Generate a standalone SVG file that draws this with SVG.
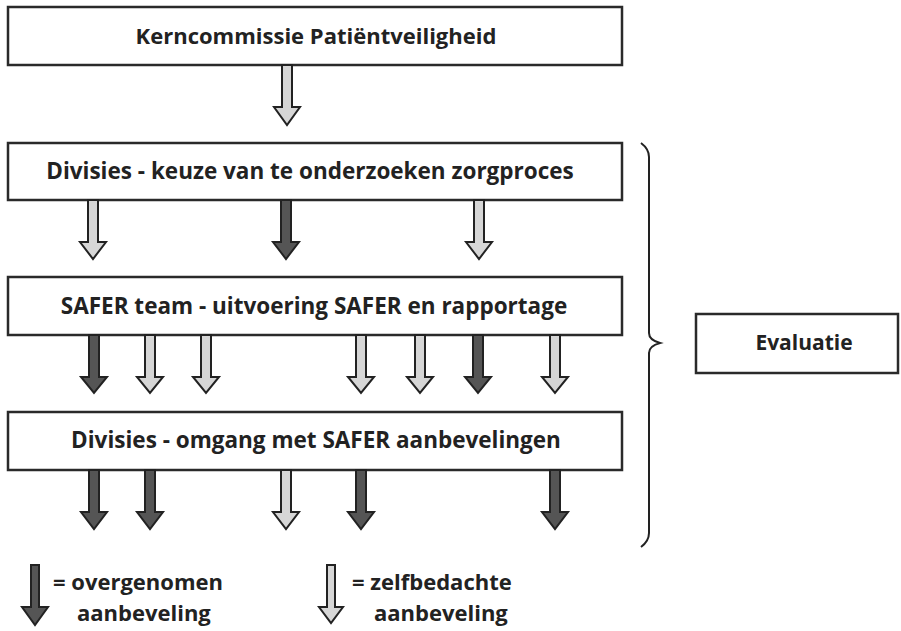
<svg xmlns="http://www.w3.org/2000/svg" width="901" height="631" viewBox="0 0 901 631">
<style>
.box{fill:#fff;stroke:#2a2a2a;stroke-width:2.5}
.t{font-family:"Open Sans","Noto Sans",sans-serif;font-weight:700;font-size:22.5px;fill:#222}
.lg{font-size:22px}
.lt{fill:#d6d6d6;stroke:#222;stroke-width:2;stroke-linejoin:miter}
.dk{fill:#555;stroke:#222;stroke-width:2;stroke-linejoin:miter}
.br{fill:none;stroke:#222;stroke-width:2}
</style>
<rect width="901" height="631" fill="#fff"/>
<g id="kern"><rect class="box" x="8" y="7" width="614" height="58"/><text class="t" x="316" y="44" text-anchor="middle" style="font-size:22px">Kerncommissie Patiëntveiligheid</text></g>
<g id="divisies1"><rect class="box" x="8" y="143" width="614" height="57"/><text class="t" x="310" y="179" text-anchor="middle">Divisies - keuze van te onderzoeken zorgproces</text></g>
<g id="safer"><rect class="box" x="8" y="277" width="614" height="58"/><text class="t" x="314" y="314" text-anchor="middle">SAFER team - uitvoering SAFER en rapportage</text></g>
<g id="divisies2"><rect class="box" x="8" y="412" width="614" height="58"/><text class="t" x="316" y="448" text-anchor="middle">Divisies - omgang met SAFER aanbevelingen</text></g>
<g id="evaluatie"><rect class="box" x="696" y="314" width="202" height="59"/><text class="t" x="804" y="350" text-anchor="middle" style="font-size:21px">Evaluatie</text></g>
<g id="brace"><path class="br" d="M641,143 Q649,149 649,157 L649,333 Q649,340 660,343 Q649,346 649,353 L649,533 Q649,541 641,547"/></g>
<g id="connectors">
<polygon class="lt" points="282,65 292,65 292,107 300,107 287,125 274,107 282,107"/>
<polygon class="lt" points="88,200 98,200 98,242 106,242 93,259 80,242 88,242"/>
<polygon class="dk" points="281,200 291,200 291,242 299,242 286,259 273,242 281,242"/>
<polygon class="lt" points="474,200 484,200 484,242 492,242 479,259 466,242 474,242"/>
<polygon class="dk" points="89,335 99,335 99,377 107,377 94,393 81,377 89,377"/>
<polygon class="lt" points="145,335 155,335 155,377 163,377 150,393 137,377 145,377"/>
<polygon class="lt" points="201,335 211,335 211,377 219,377 206,393 193,377 201,377"/>
<polygon class="lt" points="356,335 366,335 366,377 374,377 361,393 348,377 356,377"/>
<polygon class="lt" points="415,335 425,335 425,377 433,377 420,393 407,377 415,377"/>
<polygon class="dk" points="473,335 483,335 483,377 491,377 478,393 465,377 473,377"/>
<polygon class="lt" points="550,335 560,335 560,377 568,377 555,393 542,377 550,377"/>
<polygon class="dk" points="89,470 99,470 99,512 107,512 94,529 81,512 89,512"/>
<polygon class="dk" points="145,470 155,470 155,512 163,512 150,529 137,512 145,512"/>
<polygon class="lt" points="281,470 291,470 291,512 299,512 286,529 273,512 281,512"/>
<polygon class="dk" points="356,470 366,470 366,512 374,512 361,529 348,512 356,512"/>
<polygon class="dk" points="550,470 560,470 560,512 568,512 555,529 542,512 550,512"/>
</g>
<g id="legend">
<polygon class="dk" points="31,565 39,565 39,607 48,607 35,625 22,607 31,607"/>
<text class="t lg" x="53" y="590">= overgenomen</text>
<text class="t lg" x="77" y="621">aanbeveling</text>
<polygon class="lt" points="327,565 335,565 335,607 343,607 331,623 319,607 327,607"/>
<text class="t lg" x="352" y="590">= zelfbedachte</text>
<text class="t lg" x="374" y="621">aanbeveling</text>
</g>
</svg>
